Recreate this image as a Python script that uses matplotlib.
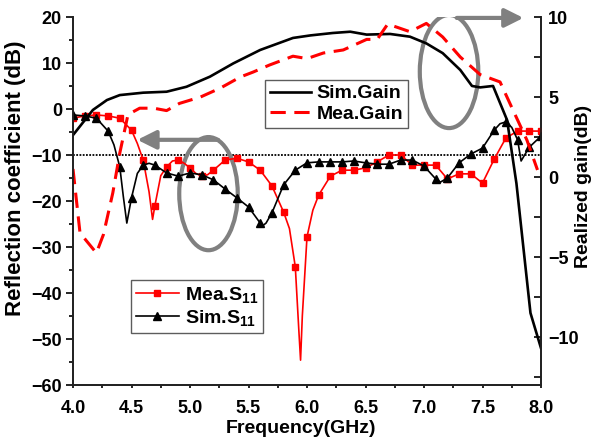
import numpy as np
import matplotlib
matplotlib.use('Agg')
import matplotlib.pyplot as plt
from matplotlib.patches import Ellipse

plt.rcParams['font.family'] = ['Liberation Sans', 'DejaVu Sans']
plt.rcParams['font.weight'] = 'bold'
plt.rcParams['mathtext.fontset'] = 'custom'
plt.rcParams['mathtext.rm'] = 'Liberation Sans:bold'
plt.rcParams['mathtext.default'] = 'rm'

# Measured S11 (dB), markers every 0.1 GHz
mea_s11_f = [4.0, 4.1, 4.2, 4.3, 4.4, 4.5, 4.55, 4.6, 4.65, 4.68, 4.7, 4.75, 4.8, 4.85, 4.9,
             4.95, 5.0, 5.05, 5.1, 5.15, 5.2, 5.3, 5.4, 5.5, 5.6, 5.7, 5.8, 5.85, 5.9, 5.93,
             5.945, 5.96, 6.0, 6.05, 6.1, 6.2, 6.3, 6.4, 6.5, 6.6, 6.7, 6.8, 6.9, 7.0, 7.1,
             7.2, 7.3, 7.4, 7.5, 7.6, 7.7, 7.8, 7.9, 8.0]
mea_s11 = [-2.0, -1.5, -1.3, -1.5, -2.0, -4.6, -7.5, -11.1, -18.0, -24.0, -21.0, -14.5, -12.6,
           -11.3, -11.1, -11.8, -12.8, -14.0, -14.6, -14.3, -13.3, -11.1, -10.7, -11.5, -13.3,
           -16.7, -22.4, -26.0, -34.3, -48.0, -54.6, -45.0, -27.8, -22.0, -18.7, -14.6, -13.3,
           -13.3, -12.8, -11.5, -10.0, -10.0, -12.2, -12.2, -12.2, -15.2, -14.1, -14.1, -16.1,
           -10.9, -6.3, -4.8, -4.8, -4.8]

# Simulated S11 (dB)
sim_s11_f = [4.0, 4.1, 4.2, 4.3, 4.35, 4.4, 4.43, 4.46, 4.5, 4.55, 4.6, 4.65, 4.7, 4.8, 4.9,
             5.0, 5.1, 5.2, 5.3, 5.4, 5.5, 5.6, 5.62, 5.65, 5.7, 5.8, 5.9, 6.0, 6.1, 6.2, 6.3,
             6.4, 6.5, 6.6, 6.7, 6.8, 6.9, 7.0, 7.1, 7.14, 7.2, 7.3, 7.4, 7.5, 7.6, 7.65, 7.7,
             7.75, 7.8, 7.83, 7.86, 7.9, 8.0]
sim_s11 = [-1.3, -1.5, -2.0, -4.8, -7.8, -12.6, -19.0, -24.8, -19.3, -14.0, -12.2, -11.8,
           -12.2, -13.9, -14.6, -13.9, -14.3, -15.4, -17.4, -19.3, -21.3, -24.8, -25.4, -24.8,
           -22.6, -16.5, -13.3, -11.7, -11.5, -11.5, -11.5, -11.3, -11.7, -12.0, -12.0, -11.1,
           -11.1, -12.4, -15.2, -15.9, -15.0, -11.7, -9.8, -8.5, -4.6, -3.2, -2.8, -4.0, -6.7,
           -11.3, -10.0, -8.3, -5.9]

# Simulated realized gain (dB)
sim_gain_f = [4.0, 4.17, 4.29, 4.4, 4.6, 4.8, 4.97, 5.17, 5.37, 5.6, 5.88, 6.03, 6.22, 6.37,
              6.51, 6.71, 6.88, 7.02, 7.16, 7.31, 7.41, 7.48, 7.59, 7.71, 7.79, 7.91, 8.0]
sim_gain = [2.62, 4.19, 4.81, 5.12, 5.27, 5.33, 5.64, 6.27, 7.1, 7.94, 8.69, 8.85, 9.0, 9.08,
            8.9, 8.94, 8.77, 8.35, 7.74, 6.69, 5.69, 5.6, 5.69, 3.56, -0.4, -8.5, -10.7]

# Measured realized gain (dB)
mea_gain_f = [4.0, 4.06, 4.2, 4.26, 4.34, 4.4, 4.47, 4.57, 4.69, 4.8, 4.91, 5.09, 5.26, 5.43,
              5.54, 5.68, 5.88, 6.0, 6.14, 6.31, 6.51, 6.6, 6.69, 6.88, 7.02, 7.16, 7.31,
              7.48, 7.65, 7.76, 7.88, 7.97]
mea_gain = [0.5, -3.5, -4.75, -3.6, -1.0, 1.5, 3.9, 4.3, 4.3, 4.15, 4.6, 5.0, 5.56, 6.25,
            6.56, 7.0, 7.55, 7.4, 7.75, 7.94, 8.6, 8.6, 9.56, 9.08, 9.6, 8.75, 7.5, 6.4,
            5.94, 4.19, 2.3, 0.44]


def every_tenth(f):
    f10 = np.array(f) * 10
    return list(np.where(np.isclose(f10, np.round(f10)))[0])


fig = plt.figure(figsize=(5.91, 4.43), dpi=100)
ax = fig.add_axes([73 / 591, 1 - 385 / 443, 468 / 591, 368 / 443])
ax2 = ax.twinx()

# S11 curves on the left axis
ax.axhline(-10, color='black', lw=1.3, ls=(0, (1, 0.8)), zorder=1)
l_mea, = ax.plot(mea_s11_f, mea_s11, color='red', lw=1.2, marker='s', ms=5,
                 markevery=every_tenth(mea_s11_f), label='Mea.S$_{11}$', zorder=3)
l_sim, = ax.plot(sim_s11_f, sim_s11, color='black', lw=1.2, marker='^', ms=5.5,
                 markevery=every_tenth(sim_s11_f), label='Sim.S$_{11}$', zorder=3)

# gain curves on the right axis
g_sim, = ax2.plot(sim_gain_f, sim_gain, color='black', lw=1.9, label='Sim.Gain')
g_mea, = ax2.plot(mea_gain_f, mea_gain, color='red', lw=2.2, ls=(0, (5, 2.8)), label='Mea.Gain')

# gray ellipses + arrows showing which axis each group belongs to
ax.add_patch(Ellipse((5.158, -18.4), 0.5, 24.6, fill=False, ec='#808080', lw=3, zorder=2))
ax.add_patch(Ellipse((7.214, 8.15), 0.5, 24.6, fill=False, ec='#808080', lw=3, zorder=2))
ax.annotate('', xy=(4.55, -6.7), xytext=(5.24, -6.7),
            arrowprops=dict(arrowstyle='-|>', color='#808080', lw=3, mutation_scale=28,
                            shrinkA=0, shrinkB=0))
ax.annotate('', xy=(7.85, 19.8), xytext=(7.28, 19.8), annotation_clip=False,
            arrowprops=dict(arrowstyle='-|>', color='#808080', lw=3, mutation_scale=28,
                            shrinkA=0, shrinkB=0))

ax.set_xlim(4.0, 8.0)
ax.set_ylim(-60, 20)
ax2.set_ylim(-13, 10)
ax.set_xticks(np.arange(4.0, 8.01, 0.5))
ax.set_xticks(np.arange(4.0, 8.01, 0.25), minor=True)
ax.set_xticklabels([f'{v:.1f}' for v in np.arange(4.0, 8.01, 0.5)])
ax.set_yticks(np.arange(-60, 21, 10))
ax.set_yticks(np.arange(-60, 21, 5), minor=True)
ax2.set_yticks([-10, -5, 0, 5, 10])
ax2.set_yticks(np.arange(-12.5, 10.1, 2.5), minor=True)

ax.tick_params(axis='y', which='major', direction='out', length=5, width=1.2, labelsize=13, pad=3)
ax.tick_params(axis='y', which='minor', direction='out', length=3, width=1.2)
ax.tick_params(axis='x', which='both', direction='out', length=2.5, width=1.2, labelsize=13, pad=8)
ax2.tick_params(axis='y', which='both', direction='in', length=5, width=1.2, labelsize=13, pad=5)

for a in (ax, ax2):
    a.spines['top'].set_visible(False)
    for s in ('left', 'right', 'bottom'):
        a.spines[s].set_linewidth(1.3)
        a.spines[s].set_color('#222222')

ax.set_xlabel('Frequency(GHz)', fontsize=14, fontweight='bold')
ax.set_ylabel('Reflection coefficient (dB)', fontsize=16, fontweight='bold')
ax2.set_ylabel('Realized gain(dB)', fontsize=14, fontweight='bold')
ax.xaxis.set_label_coords(0.488, -0.095)
ax.yaxis.set_label_coords(-0.1, 0.562)
ax2.yaxis.set_label_coords(1.0726, 0.54)

leg1 = ax2.legend(handles=[g_sim, g_mea], loc='upper left', bbox_to_anchor=(0.41, 0.829),
                  borderaxespad=0, fontsize=14, frameon=True, fancybox=False,
                  edgecolor='#333333', handlelength=2.1, handletextpad=0.3,
                  borderpad=0.25, labelspacing=0.15)
leg1.get_frame().set_linewidth(1.0)
ax2.add_artist(leg1)
leg2 = ax2.legend(handles=[l_mea, l_sim], loc='upper left', bbox_to_anchor=(0.124, 0.285),
                  borderaxespad=0, fontsize=14, frameon=True, fancybox=False,
                  edgecolor='#333333', handlelength=2.2, handletextpad=0.3,
                  borderpad=0.25, labelspacing=0.15)
leg2.get_frame().set_linewidth(1.0)

fig.savefig('out.png', dpi=100)
